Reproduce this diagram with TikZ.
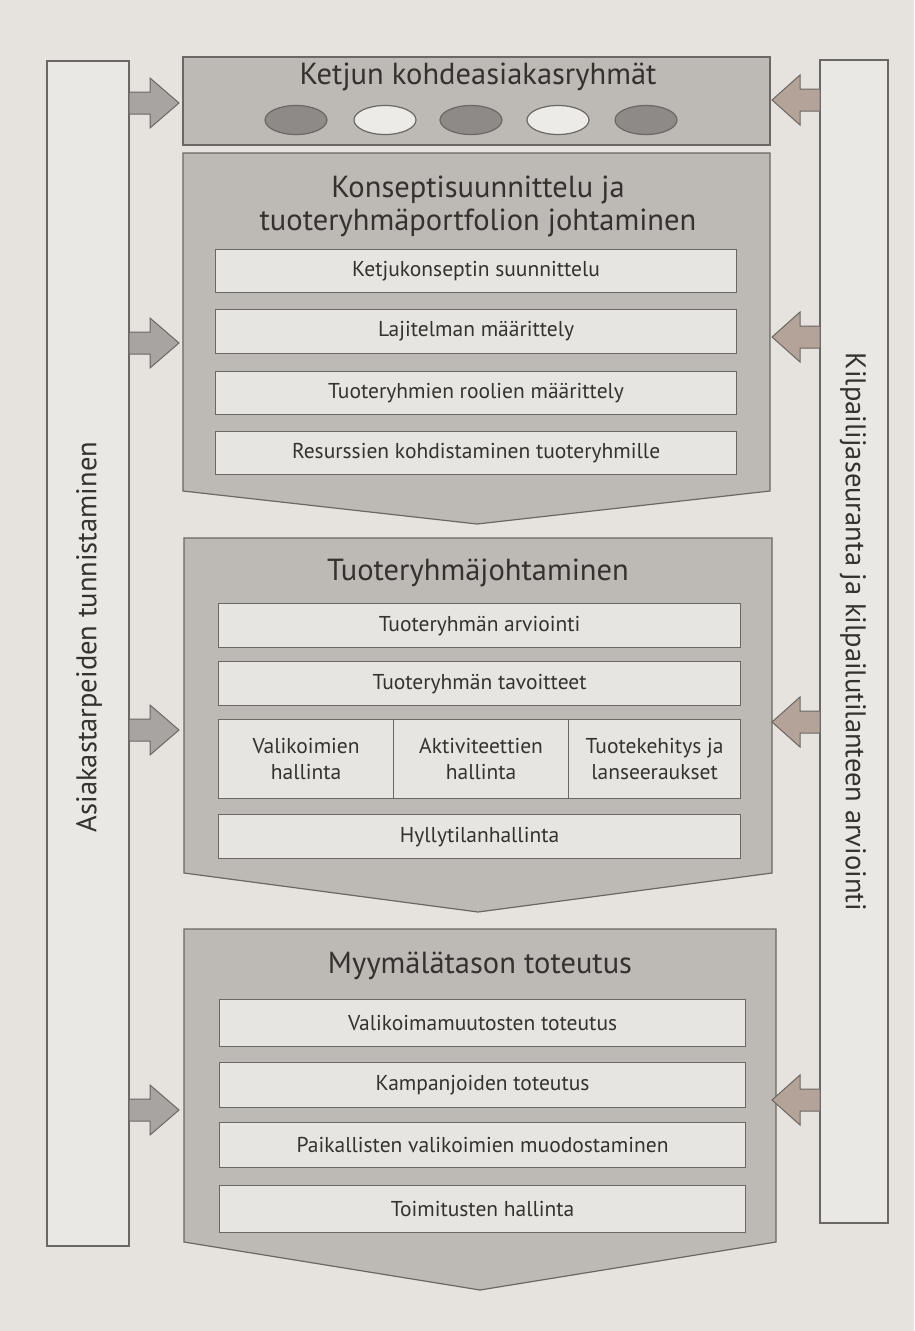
\documentclass[tikz,border=0pt]{standalone}
\usepackage{fontspec}
\setmainfont{PT Sans}
\usetikzlibrary{shapes.geometric}
\definecolor{page}{HTML}{E6E3DF}
\definecolor{colfill}{HTML}{EAE8E4}
\definecolor{panelfill}{HTML}{BDB9B5}
\definecolor{subfill}{HTML}{E7E5E2}
\definecolor{edge}{HTML}{6B6764}
\definecolor{txt}{HTML}{35312F}
\definecolor{arrL}{HTML}{A8A4A1}
\definecolor{arrR}{HTML}{B3A398}
\definecolor{ovdark}{HTML}{8E8A87}
\definecolor{ovlight}{HTML}{EDEBE8}
\tikzset{
  panel/.style={fill=panelfill, draw=edge, line width=1.2pt},
  column/.style={fill=colfill, draw=edge, line width=1.2pt},
  subbox/.style={fill=subfill, draw=edge, line width=1.2pt, anchor=north west,
    inner sep=0pt, text=txt, font=\fontsize{21.5}{25.5}\selectfont, align=center},
  paneltitle/.style={text=txt, font=\fontsize{30.5}{33}\selectfont, align=center, inner sep=0pt},
  coltitle/.style={text=txt, font=\fontsize{28.5}{32}\selectfont, inner sep=0pt},
  blockL/.style={fill=arrL, draw=edge, line width=1pt, line join=miter},
  blockR/.style={fill=arrR, draw=edge, line width=1pt, line join=miter},
  oval/.style={ellipse, draw=edge, line width=1.2pt, minimum width=62pt, minimum height=29pt, inner sep=0pt}
}
% right-pointing block arrow: start x, centre y
\newcommand\blockright[2]{%
  \filldraw[blockL] (#1,#2-11) -- (#1+21,#2-11) -- (#1+21,#2-25) -- (#1+50,#2)
    -- (#1+21,#2+25) -- (#1+21,#2+11) -- (#1,#2+11) -- cycle;}
% left-pointing block arrow: start x (at column), centre y
\newcommand\blockleft[2]{%
  \filldraw[blockR] (#1,#2-11) -- (#1-20,#2-11) -- (#1-20,#2-25) -- (#1-48,#2)
    -- (#1-20,#2+25) -- (#1-20,#2+11) -- (#1,#2+11) -- cycle;}
\begin{document}
\begin{tikzpicture}[x=1pt,y=-1pt]
\fill[page] (0,0) rectangle (914,1331);
\useasboundingbox (0,0) rectangle (914,1331);

% side columns
\filldraw[column] (47,61) rectangle (129,1246);
\filldraw[column] (820,60) rectangle (888,1223);
\node[coltitle, rotate=90] (lefttitle) at (89,637) {Asiakastarpeiden tunnistaminen};
\node[coltitle, rotate=-90] (righttitle) at (853,632) {Kilpailijaseuranta ja kilpailutilanteen arviointi};

% top panel
\filldraw[panel] (183,57) rectangle (770,145);
\node[paneltitle] (t1) at (478,77) {Ketjun kohdeasiakasryhmät};
\node[oval, fill=ovdark]  (e1) at (296,120) {};
\node[oval, fill=ovlight] (e2) at (385,120) {};
\node[oval, fill=ovdark]  (e3) at (471,120) {};
\node[oval, fill=ovlight] (e4) at (558,120) {};
\node[oval, fill=ovdark]  (e5) at (646,120) {};

% panel 2
\filldraw[panel] (183,153) -- (770,153) -- (770,491) -- (477,524) -- (183,491) -- cycle;
\node[paneltitle] (t2) at (478,206) {Konseptisuunnittelu ja\\tuoteryhmäportfolion johtaminen};
\node[subbox, minimum width=521pt, minimum height=43pt] (k1) at (215,249) {Ketjukonseptin suunnittelu};
\node[subbox, minimum width=521pt, minimum height=44pt] (k2) at (215,309) {Lajitelman määrittely};
\node[subbox, minimum width=521pt, minimum height=43pt] (k3) at (215,371) {Tuoteryhmien roolien määrittely};
\node[subbox, minimum width=521pt, minimum height=43pt] (k4) at (215,431) {Resurssien kohdistaminen tuoteryhmille};

% panel 3
\filldraw[panel] (184,538) -- (772,538) -- (772,873) -- (478,912) -- (184,873) -- cycle;
\node[paneltitle] (t3) at (478,573) {Tuoteryhmäjohtaminen};
\node[subbox, minimum width=522pt, minimum height=44pt] (j1) at (218,603) {Tuoteryhmän arviointi};
\node[subbox, minimum width=522pt, minimum height=44pt] (j2) at (218,661) {Tuoteryhmän tavoitteet};
\node[subbox, minimum width=175pt, minimum height=79pt] (j3) at (218,719) {Valikoimien\\hallinta};
\node[subbox, minimum width=175pt, minimum height=79pt] (j4) at (393,719) {Aktiviteettien\\hallinta};
\node[subbox, minimum width=172pt, minimum height=79pt] (j5) at (568,719) {Tuotekehitys ja\\lanseeraukset};
\node[subbox, minimum width=522pt, minimum height=44pt] (j6) at (218,814) {Hyllytilanhallinta};

% panel 4
\filldraw[panel] (184,929) -- (776,929) -- (776,1242) -- (480,1290) -- (184,1242) -- cycle;
\node[paneltitle] (t4) at (480,966) {Myymälätason toteutus};
\node[subbox, minimum width=526pt, minimum height=47pt] (m1) at (219,999) {Valikoimamuutosten toteutus};
\node[subbox, minimum width=526pt, minimum height=45pt] (m2) at (219,1062) {Kampanjoiden toteutus};
\node[subbox, minimum width=526pt, minimum height=45pt] (m3) at (219,1122) {Paikallisten valikoimien muodostaminen};
\node[subbox, minimum width=526pt, minimum height=47pt] (m4) at (219,1185) {Toimitusten hallinta};

% block arrows from the columns
\blockright{129}{103}
\blockright{129}{343}
\blockright{129}{730}
\blockright{129}{1110}
\blockleft{820}{100}
\blockleft{820}{337}
\blockleft{820}{722}
\blockleft{820}{1100}
\end{tikzpicture}
\end{document}
